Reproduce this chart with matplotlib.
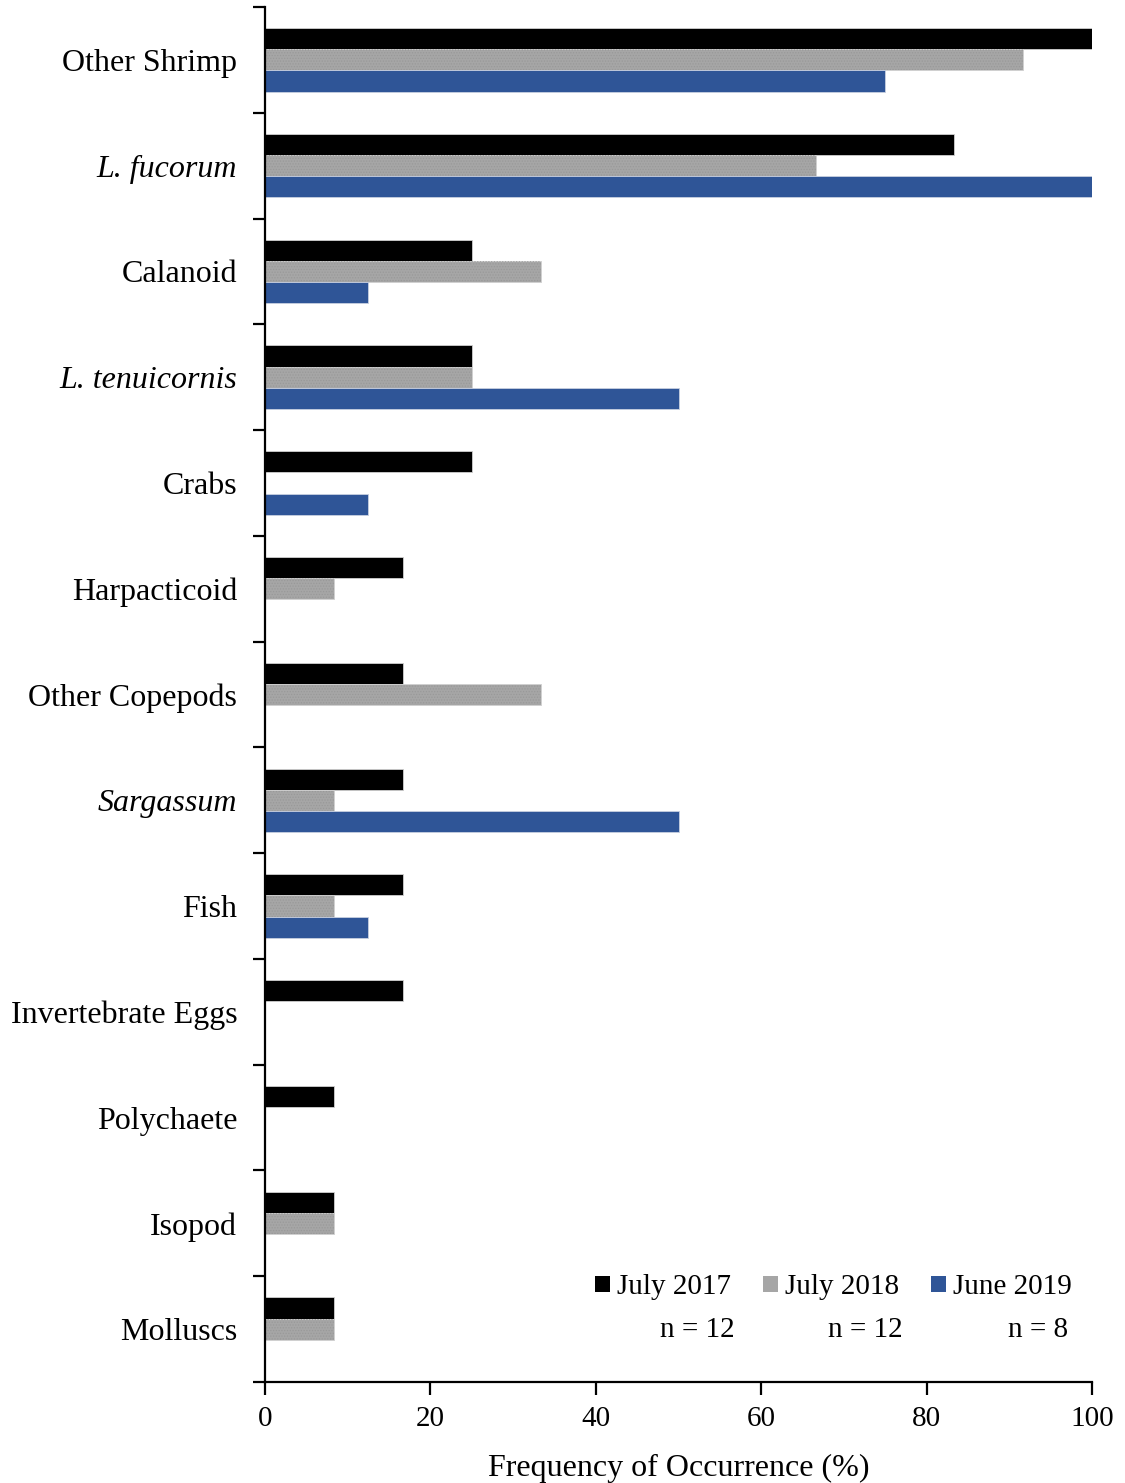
import numpy as np
import matplotlib
matplotlib.use("Agg")
import matplotlib.pyplot as plt
from matplotlib.patches import Patch

plt.rcParams['font.family'] = ['Liberation Serif', 'DejaVu Serif']
plt.rcParams['hatch.linewidth'] = 0.6

categories = ["Other Shrimp", "L. fucorum", "Calanoid", "L. tenuicornis", "Crabs",
              "Harpacticoid", "Other Copepods", "Sargassum", "Fish",
              "Invertebrate Eggs", "Polychaete", "Isopod", "Molluscs"]
italic_cats = {"L. fucorum", "L. tenuicornis", "Sargassum"}

series_names = ["July 2017", "July 2018", "June 2019"]
sample_sizes = ["n = 12", "n = 12", "n = 8"]

july_2017 = [100, 83.33, 25, 25, 25, 16.67, 16.67, 16.67, 16.67, 16.67, 8.33, 8.33, 8.33]
july_2018 = [91.67, 66.67, 33.33, 25, 0, 8.33, 33.33, 8.33, 8.33, 0, 0, 8.33, 8.33]
june_2019 = [75, 100, 12.5, 50, 12.5, 0, 0, 50, 12.5, 0, 0, 0, 0]

colors = ["#000000", "#A6A6A6", "#2F5597"]
x_ticks = [0, 20, 40, 60, 80, 100]

fig = plt.figure(figsize=(11.25, 14.83), dpi=100)
ax = fig.add_axes([265 / 1125, 1 - 1382 / 1483, (1092 - 265) / 1125, (1382 - 7) / 1483])

y = np.arange(len(categories))
h = 0.2
ax.barh(y - h, july_2017, height=h, color=colors[0], edgecolor="#d0d0d0", linewidth=0.6)
ax.barh(y, july_2018, height=h, color=colors[1], edgecolor="#d0d0d0", linewidth=0.6)
ax.barh(y, july_2018, height=h, color="none", edgecolor="#999999", linewidth=0, hatch="......")
ax.barh(y + h, june_2019, height=h, color=colors[2], edgecolor="#c8d0e0", linewidth=0.6)

ax.set_ylim(len(categories) - 0.5, -0.5)
ax.set_xlim(0, 100)

ax.set_yticks(y)
ax.set_yticklabels(categories, fontsize=23)
for lbl in ax.get_yticklabels():
    if lbl.get_text() in italic_cats:
        lbl.set_fontstyle("italic")
ax.set_yticks(np.arange(-0.5, len(categories)), minor=True)
ax.tick_params(axis="y", which="major", length=0, pad=20)
ax.tick_params(axis="y", which="minor", length=9, width=1.6, direction="out")

ax.set_xticks(x_ticks)
ax.set_xticklabels([str(v) for v in x_ticks], fontsize=21)
ax.tick_params(axis="x", length=9, width=1.6, direction="out", pad=8)
ax.set_xlabel("Frequency of Occurrence (%)", fontsize=23, labelpad=16)

for side in ("top", "right"):
    ax.spines[side].set_visible(False)
for side in ("left", "bottom"):
    ax.spines[side].set_linewidth(1.6)

handles = [Patch(facecolor=c, edgecolor="none") for c in colors]
leg = ax.legend(handles, series_names, ncol=3, loc="lower right",
                bbox_to_anchor=(0.99, 0.051), fontsize=21, frameon=False,
                handlelength=0.5, handleheight=0.5, handletextpad=0.25,
                columnspacing=1.1, borderaxespad=0)

label_right = [735, 903, 1068]
for xr, txt in zip(label_right, sample_sizes):
    ax.text((xr - 265) / 827, (1382 - 1330) / 1375, txt, transform=ax.transAxes,
            ha="right", va="center", fontsize=21)

fig.savefig("out.png", dpi=100)
